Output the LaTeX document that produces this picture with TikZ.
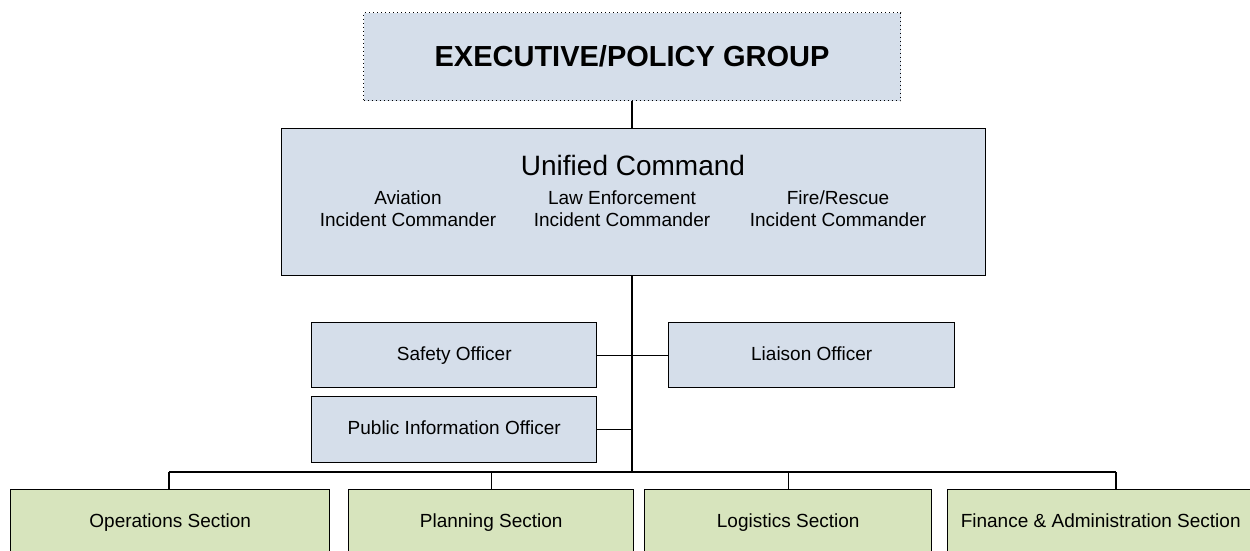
\documentclass[tikz,border=0pt]{standalone}
\usepackage{fontspec}
\setmainfont{Liberation Sans}
\definecolor{bluefill}{HTML}{D5DEEA}
\definecolor{greenfill}{HTML}{D7E4BD}
\begin{document}
\begin{tikzpicture}[x=1pt,y=-1pt,
  box/.style={draw=black, line width=1.4pt, fill=bluefill, anchor=north west,
    inner sep=0pt, text height=13.7pt, text depth=4pt,
    font=\fontsize{19}{22}\selectfont},
  secbox/.style={box, fill=greenfill, minimum height=65pt},
  offbox/.style={box, minimum height=65pt},
  dotbox/.style={draw=black, line width=1pt, dash pattern=on 1pt off 3pt,
    fill=bluefill, anchor=north west, inner sep=0pt,
    font=\fontsize{29}{34}\selectfont\bfseries},
  lbl/.style={inner sep=0pt, align=center, font=\fontsize{19}{22}\selectfont},
  conn/.style={draw=black, line width=1.3pt}]
\useasboundingbox (0,0) rectangle (1250,550);

% Executive group
\node[dotbox, minimum width=537pt, minimum height=88pt] (exec) at (363,12) {EXECUTIVE/POLICY GROUP};

% Unified command
\node[box, minimum width=704pt, minimum height=147pt] (uc) at (281,128) {};
\node[inner sep=0pt, font=\fontsize{28}{32}\selectfont] (uct) at (633,165) {Unified Command};
\node[lbl] (av) at (408,209) {Aviation\\Incident Commander};
\node[lbl] (law) at (622,209) {Law Enforcement\\Incident Commander};
\node[lbl] (fire) at (838,209) {Fire/Rescue\\Incident Commander};

% Officers
\node[offbox, minimum width=285pt] (safety) at (311,322) {Safety Officer};
\node[offbox, minimum width=286pt] (liaison) at (668,322) {Liaison Officer};
\node[offbox, minimum width=285pt, minimum height=66pt] (pio) at (311,396) {Public Information Officer};

% Sections
\node[secbox, minimum width=319pt] (ops) at (10,489) {Operations Section};
\node[secbox, minimum width=285pt] (plan) at (348,489) {Planning Section};
\node[secbox, minimum width=287pt] (log) at (644,489) {Logistics Section};
\node[secbox, minimum width=306pt] (fin) at (947,489) {Finance \& Administration Section};

% Connectors
\coordinate (tb) at (632,472);
\coordinate (bL) at (169,472);
\coordinate (bR) at (1116,472);
\draw[conn] (exec.south -| tb) -- (uc.north -| tb);
\draw[conn] (uc.south -| tb) -- (tb);
\draw[conn] (safety.east) -- (liaison.west);
\draw[conn] (pio.east) -- (pio.east -| tb);
\draw[conn] (bL) -- (bR);
\draw[conn] (bL) -- (bL |- ops.north);
\draw[conn] (plan.north |- tb) -- (plan.north);
\draw[conn] (log.north |- tb) -- (log.north);
\draw[conn] (bR) -- (bR |- fin.north);
\end{tikzpicture}
\end{document}
